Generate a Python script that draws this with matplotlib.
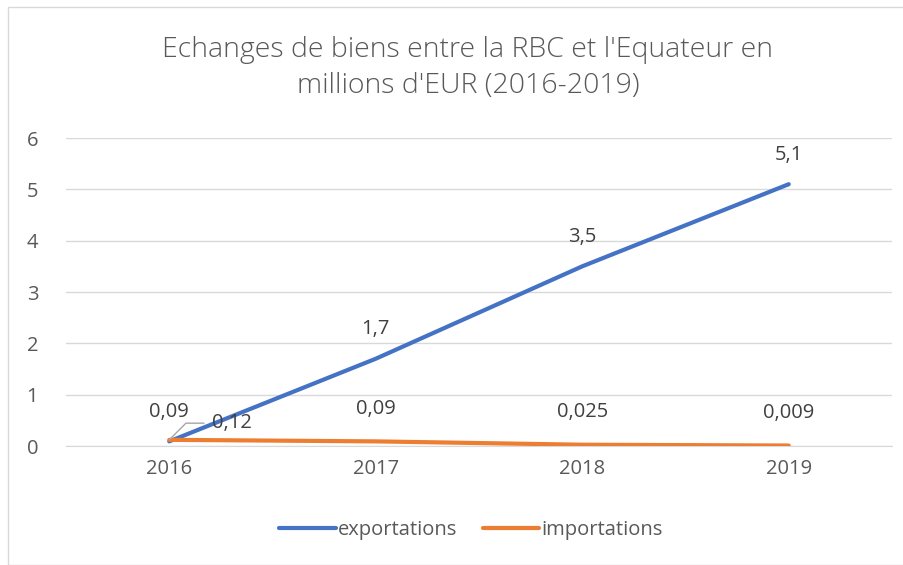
import matplotlib.pyplot as plt
from matplotlib.patches import Rectangle

annees = ['2016', '2017', '2018', '2019']
exportations = [0.09, 1.7, 3.5, 5.1]
importations = [0.12, 0.09, 0.025, 0.009]
lab_exp = ['0,09', '1,7', '3,5', '5,1']
lab_imp = ['0,12', '0,09', '0,025', '0,009']

plt.rcParams['font.family'] = ['Open Sans', 'DejaVu Sans']
gris = '#595959'

fig = plt.figure(figsize=(9.04, 5.65), dpi=100)
fig.patches.append(Rectangle((8/904, 0), 1, 1 - 7/565, transform=fig.transFigure,
                             fill=False, edgecolor='#d9d9d9', lw=1))
ax = fig.add_axes([66/904, 1 - 446/565, 826/904, 308/565])

x = range(len(annees))
ax.plot(x, exportations, color='#4472C4', lw=3, solid_capstyle='round', label='exportations', zorder=3)
ax.plot(x, importations, color='#ED7D31', lw=3, solid_capstyle='round', label='importations', zorder=3)

# etiquettes de donnees
for i in range(len(annees)):
    ax.annotate(lab_exp[i], (i, exportations[i]), xytext=(0, 14), textcoords='offset points',
                ha='center', va='bottom', fontsize=14.5, color='#404040')
for i in range(1, len(annees)):
    ax.annotate(lab_imp[i], (i, importations[i]), xytext=(0, 16), textcoords='offset points',
                ha='center', va='bottom', fontsize=14.5, color='#404040')
ax.annotate(lab_imp[0], (0, importations[0]), xytext=(31, 12), textcoords='offset points',
            ha='left', va='center', fontsize=14.5, color='#404040',
            arrowprops=dict(arrowstyle='-', color='#a6a6a6', lw=1,
                            connectionstyle='angle,angleA=0,angleB=45,rad=0', shrinkA=4, shrinkB=0))

ax.set_xlim(-0.5, 3.5)
ax.set_ylim(0, 6)
ax.set_xticks(list(x))
ax.set_xticklabels(annees)
ax.set_yticks(range(0, 7))
ax.tick_params(axis='both', length=0, labelsize=14.5, labelcolor=gris)
ax.tick_params(axis='x', pad=9)
ax.tick_params(axis='y', pad=20)
ax.grid(axis='y', color='#d9d9d9', lw=1)
ax.set_axisbelow(True)
for s in ['top', 'right', 'left']:
    ax.spines[s].set_visible(False)
ax.spines['bottom'].set_color('#d9d9d9')

fig.text(468/904, 1 - 68/565, "Echanges de biens entre la RBC et l'Equateur en\nmillions d'EUR (2016-2019)",
         ha='center', va='center', fontsize=20.5, color=gris, fontweight='light', linespacing=1.4)

fig.legend(loc='center', bbox_to_anchor=(471/904, 1 - 530/565), ncol=2, frameon=False,
           fontsize=14.5, labelcolor=gris, handlelength=2.8, handletextpad=0.1, columnspacing=1.3)

fig.savefig('out.png', dpi=100)
